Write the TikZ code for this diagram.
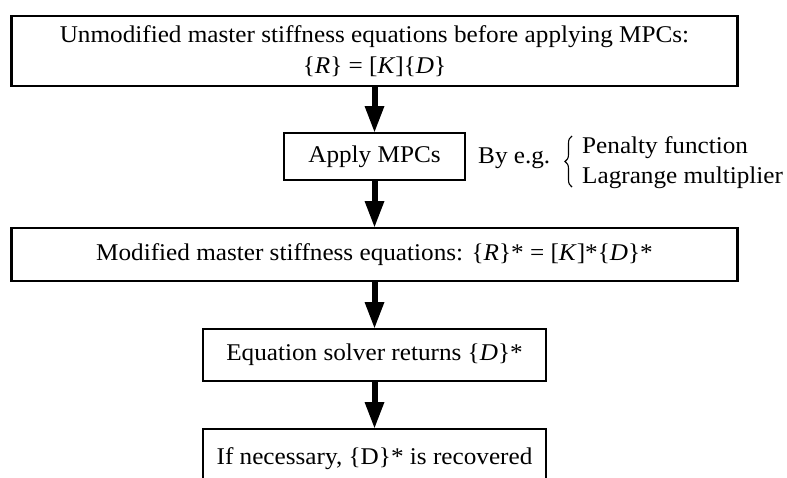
\documentclass[tikz,border=0pt]{standalone}
\usepackage{fontspec}
\setmainfont{Liberation Serif}[FakeStretch=1.05]
\usetikzlibrary{arrows.meta,decorations.pathreplacing}
\begin{document}
\begin{tikzpicture}[x=1pt,y=-1pt,
  txt/.style={font=\fontsize{24}{31}\selectfont},
  boxnode/.style={draw=black, line width=2.6pt, inner sep=0pt, outer sep=0pt, align=center, txt},
  sidetext/.style={anchor=base west, inner sep=0pt, txt},
  flowarrow/.style={line width=6pt, -{Triangle[width=18pt,length=27pt]}}]
\useasboundingbox (0,0) rectangle (787,477);
\clip (0,0) rectangle (787,477);
\node[boxnode, minimum width=726pt, minimum height=70pt] (b1) at (374.5,51)
  {Unmodified master stiffness equations before applying MPCs:\\ \{\textit{R}\} = [\textit{K}]\{\textit{D}\}};
\node[boxnode, minimum width=181pt, minimum height=47pt] (apply) at (374.5,156.5) {Apply MPCs};
\node[boxnode, minimum width=726pt, minimum height=53pt] (b3) at (374.5,254.5)
  {Modified master stiffness equations: \{\textit{R}\}* = [\textit{K}]*\{\textit{D}\}*};
\node[boxnode, minimum width=343pt, minimum height=52pt] (b4) at (374.5,355) {Equation solver returns \{\textit{D}\}*};
\node[boxnode, minimum width=343pt, minimum height=59pt] (b5) at (374.5,458.5) {If necessary, \{D\}* is recovered};
\node[sidetext] (bye) at (478,163) {By e.g.};
\node[sidetext] (pen) at (582,153) {Penalty function};
\node[sidetext] (lag) at (582,183) {Lagrange multiplier};
\coordinate (brlo) at (572,187);
\coordinate (brhi) at (572,136);
\draw[decorate, decoration={brace, amplitude=7pt}, line width=1.1pt] (brlo) -- (brhi);
\draw[flowarrow] (b1.south) -- (apply.north);
\draw[flowarrow] (apply.south) -- (b3.north);
\draw[flowarrow] (b3.south) -- (b4.north);
\draw[flowarrow] (b4.south) -- (b5.north);
\end{tikzpicture}
\end{document}
